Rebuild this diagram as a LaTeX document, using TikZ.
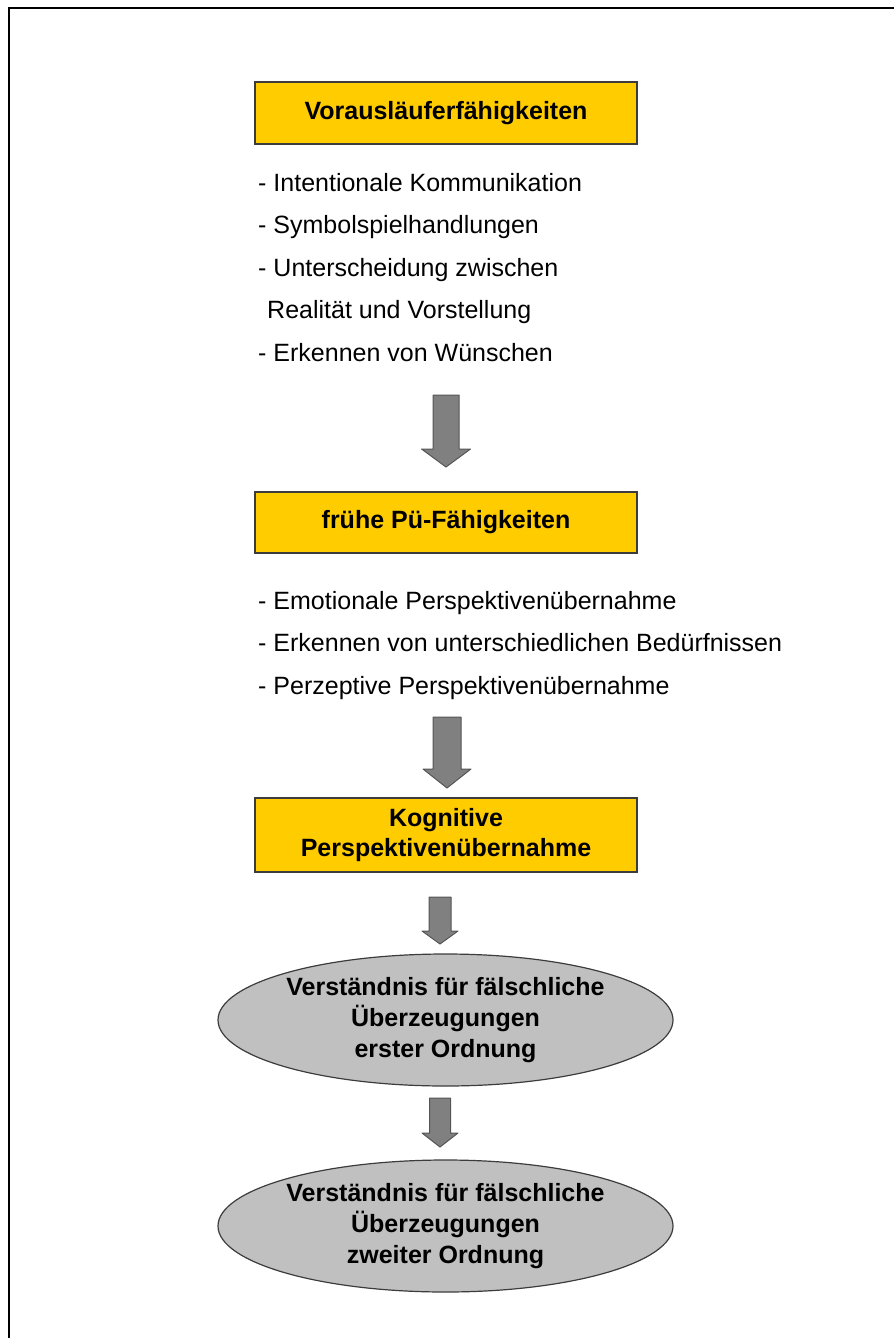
\documentclass[tikz,border=0pt]{standalone}
\usepackage{fontspec}
\setmainfont{Liberation Sans}
\usetikzlibrary{shapes.geometric}
\definecolor{boxyellow}{HTML}{FFCC00}
\definecolor{ovalgray}{HTML}{C0C0C0}
\definecolor{arrowgray}{HTML}{808080}
\definecolor{edgedark}{HTML}{3C3C3C}
\definecolor{arrowedge}{HTML}{555555}

\tikzset{
  stagebox/.style={draw=edgedark, line width=1.4pt, fill=boxyellow, minimum width=382pt,
    align=center, inner sep=0pt, font=\fontsize{25}{30}\selectfont\bfseries},
  stageoval/.style={ellipse, draw=edgedark, line width=1.2pt, fill=ovalgray, minimum width=455pt,
    minimum height=132pt, align=center, inner sep=0pt, font=\fontsize{25}{31}\selectfont\bfseries},
  itemtext/.style={anchor=base west, inner sep=0pt, font=\fontsize{25}{30}\selectfont},
  blockarrow/.style={draw=arrowedge, fill=arrowgray, line width=1pt, line join=round},
}

\begin{document}
\begin{tikzpicture}[x=1pt, y=-1pt]

\useasboundingbox (0,0) rectangle (894,1338);

% Frame
\draw[line width=2.3pt] (9,1338) -- (9,7.8) -- (894,7.8);

% Stage 1
\node[stagebox, minimum height=62pt] (vorlaeufer) at (446,113) {Vorausläuferfähigkeiten};
\node[itemtext] (v1) at (258,191) {- Intentionale Kommunikation};
\node[itemtext] (v2) at (258,233.5) {- Symbolspielhandlungen};
\node[itemtext] (v3) at (258,276) {- Unterscheidung zwischen};
\node[itemtext] (v4) at (267,318.5) {Realität und Vorstellung};
\node[itemtext] (v5) at (258,361) {- Erkennen von Wünschen};

% Stage 2
\node[stagebox, minimum height=61pt] (fruehe) at (446,522.5) {frühe Pü-Fähigkeiten};
\node[itemtext] (f1) at (258,609) {- Emotionale Perspektivenübernahme};
\node[itemtext] (f2) at (258,651.5) {- Erkennen von unterschiedlichen Bedürfnissen};
\node[itemtext] (f3) at (258,694) {- Perzeptive Perspektivenübernahme};

% Stage 3
\node[stagebox, minimum height=74pt] (kognitiv) at (446,835) {Kognitive\\Perspektivenübernahme};

% Stages 4 and 5
\node[stageoval] (erste) at (445.5,1020) {Verständnis für fälschliche\\Überzeugungen\\erster Ordnung};
\node[stageoval] (zweite) at (445.5,1226) {Verständnis für fälschliche\\Überzeugungen\\zweiter Ordnung};

% Block arrows
\foreach \cx/\ya/\yb/\yc/\sw/\hw in {446/395/449/467/13/24.5, 447/717/769/788/14/24,
    440/897/931/944/11/18, 440/1098/1133/1147/10.5/18} {
  \draw[blockarrow] (\cx-\sw,\ya) -- (\cx+\sw,\ya) -- (\cx+\sw,\yb) -- (\cx+\hw,\yb)
    -- (\cx,\yc) -- (\cx-\hw,\yb) -- (\cx-\sw,\yb) -- cycle;
}

\end{tikzpicture}
\end{document}
